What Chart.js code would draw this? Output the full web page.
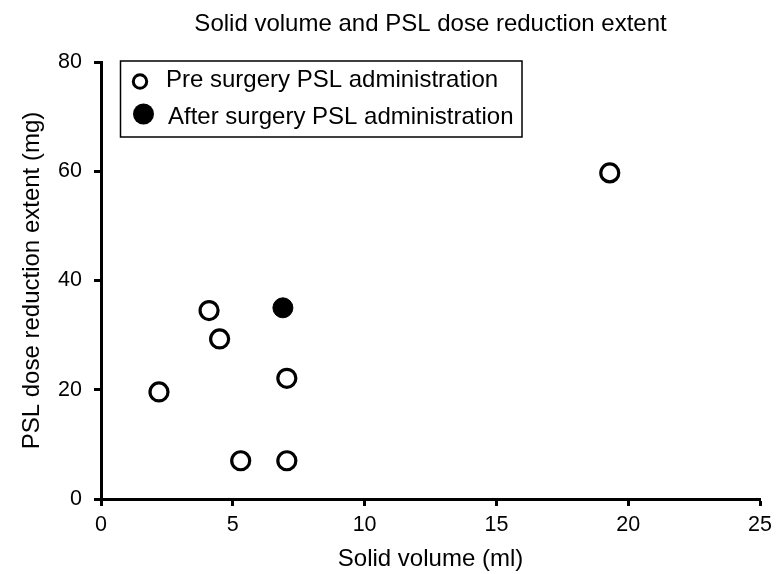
<!DOCTYPE html>
<html>
<head>
<meta charset="utf-8">
<script src="https://cdn.jsdelivr.net/npm/chart.js@4.4.1/dist/chart.umd.min.js"></script>
<style>
html,body{margin:0;padding:0;background:#fff;}
#wrap{width:778px;height:574px;position:relative;}
</style>
</head>
<body>
<div id="wrap"><canvas id="c" width="778" height="574"></canvas></div>
<script>
const preX = [2.2, 4.1, 4.5, 7.05, 5.3, 7.05, 19.3];
const preY = [19.6, 34.5, 29.3, 22.1, 7.0, 7.0, 59.7];
const postX = [6.9];
const postY = [35.0];
const seriesLabels = ["Pre surgery PSL administration", "After surgery PSL administration"];
const chartTitle = "Solid volume and PSL dose reduction extent";
const xTitle = "Solid volume (ml)";
const yTitle = "PSL dose reduction extent (mg)";
const xTicks = [0, 5, 10, 15, 20, 25];
const yTicks = [0, 20, 40, 60, 80];

const FONT = "'Liberation Sans', Arial, sans-serif";

const legendBox = {
  id: 'legendBox',
  afterDraw(chart) {
    const ctx = chart.ctx;
    ctx.save();
    const x0 = 120.5, y0 = 61, w = 401.5, h = 76;
    ctx.lineWidth = 1.5;
    ctx.strokeStyle = '#000';
    ctx.strokeRect(x0, y0, w, h);
    ctx.font = "24px " + FONT;
    ctx.textBaseline = 'middle';
    // marker 1 (open)
    ctx.beginPath();
    ctx.arc(140, 81.5, 6.7, 0, Math.PI * 2);
    ctx.lineWidth = 3;
    ctx.fillStyle = '#fff';
    ctx.fill();
    ctx.stroke();
    ctx.fillStyle = '#000';
    ctx.fillText(seriesLabels[0], 166, 80.5);
    // marker 2 (filled)
    ctx.beginPath();
    ctx.arc(143.5, 114, 10.5, 0, Math.PI * 2);
    ctx.fill();
    ctx.fillText(seriesLabels[1], 168, 117);
    ctx.restore();
  }
};

new Chart(document.getElementById('c'), {
  type: 'scatter',
  data: {
    datasets: [
      {
        label: seriesLabels[0],
        data: preX.map((x, i) => ({x: x, y: preY[i]})),
        pointRadius: 9,
        pointBorderWidth: 3.2,
        pointBackgroundColor: '#fff',
        pointBorderColor: '#000',
        pointHoverRadius: 9
      },
      {
        label: seriesLabels[1],
        data: postX.map((x, i) => ({x: x, y: postY[i]})),
        pointRadius: 10,
        pointBorderWidth: 1,
        pointBackgroundColor: '#000',
        pointBorderColor: '#000',
        pointHoverRadius: 10
      }
    ]
  },
  options: {
    responsive: false,
    animation: false,
    events: [],
    layout: { padding: { left: 0, right: 15, top: 0, bottom: 0 } },
    plugins: {
      legend: { display: false },
      tooltip: { enabled: false },
      title: {
        display: true,
        fullSize: false,
        text: chartTitle,
        color: '#000',
        font: { family: FONT, size: 24, weight: 'normal' },
        padding: { top: 10, bottom: 23.2 }
      }
    },
    scales: {
      x: {
        type: 'linear',
        min: 0, max: 25,
        afterBuildTicks: (s) => { s.ticks = xTicks.map(v => ({value: v})); },
        afterFit: (s) => { s.height = 75; },
        border: { display: true, color: '#000', width: 3 },
        grid: { display: true, drawOnChartArea: false, drawTicks: true, tickLength: 7, tickWidth: 3, tickColor: '#000', color: '#000' },
        ticks: { color: '#000', font: { family: FONT, size: 21.5 }, padding: 6, maxRotation: 0 },
        title: { display: true, text: xTitle, color: '#000', font: { family: FONT, size: 24 }, padding: { top: 4, bottom: 0 } }
      },
      y: {
        type: 'linear',
        min: 0, max: 80,
        afterBuildTicks: (s) => { s.ticks = yTicks.map(v => ({value: v})); },
        afterFit: (s) => { s.width = 101; },
        border: { display: true, color: '#000', width: 3 },
        grid: { display: true, drawOnChartArea: false, drawTicks: true, tickLength: 7, tickWidth: 3, tickColor: '#000', color: '#000' },
        ticks: { color: '#000', font: { family: FONT, size: 21.5 }, padding: 12 },
        title: { display: true, text: yTitle, color: '#000', font: { family: FONT, size: 24 }, padding: { top: 17.5, bottom: 4 } }
      }
    }
  },
  plugins: [legendBox]
});
</script>
</body>
</html>
